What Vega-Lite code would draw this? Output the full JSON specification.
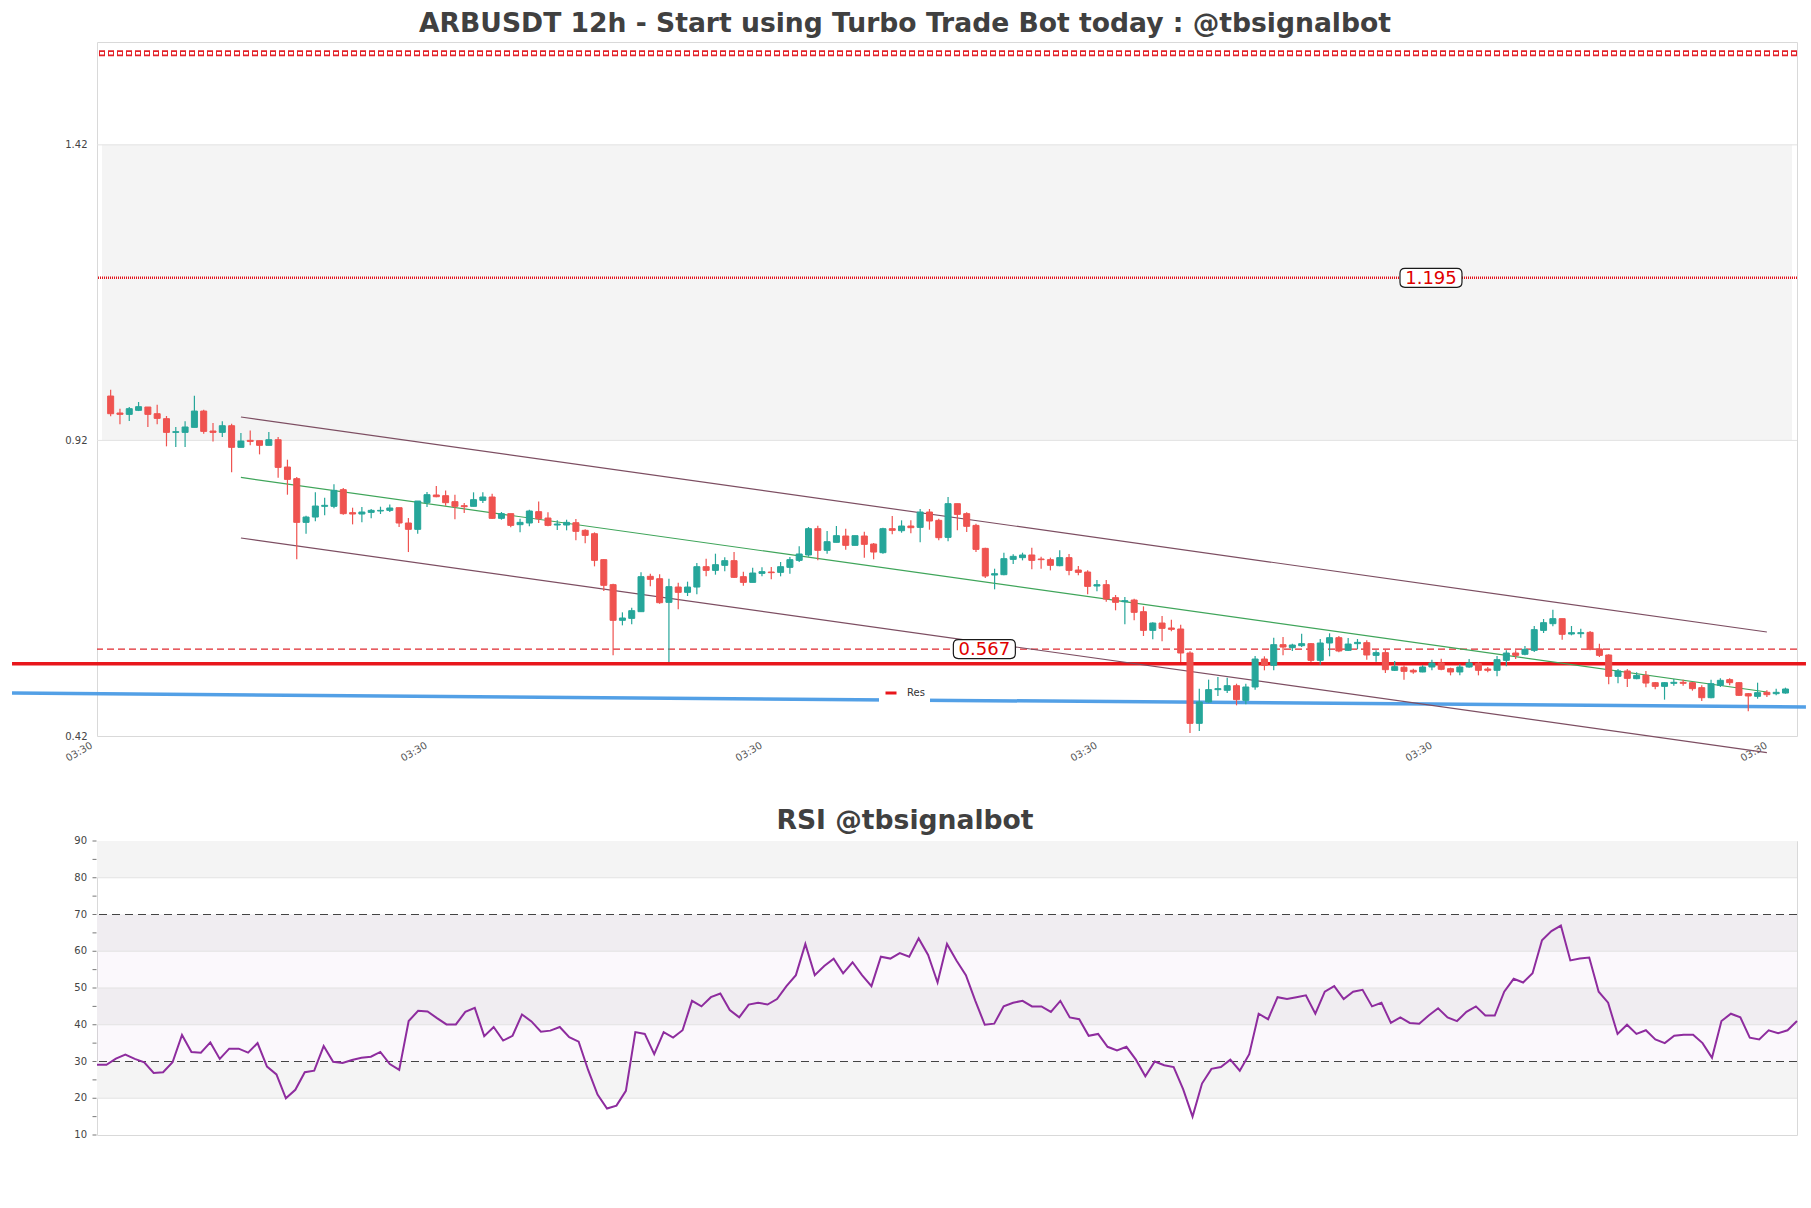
{
  "$schema": "https://vega.github.io/schema/vega-lite/v6.json",
  "background": "white",
  "padding": {"left": 4, "top": 10, "right": 0, "bottom": 0},
  "config": {
    "font": "DejaVu Sans",
    "view": {"stroke": "#d9d9d9", "strokeWidth": 1},
    "title": {"font": "DejaVu Sans", "fontSize": 26.6, "fontWeight": "bold", "color": "#404040", "anchor": "middle", "baseline": "alphabetic", "offset": 4, "dx": -42}
  },
  "resolve": {"scale": {"color": "independent"}, "legend": {"color": "independent"}},
  "spacing": 43,
  "datasets": {
    "candles": [
      {"i":0,"o":0.9951,"h":1.0058,"l":0.9607,"c":0.9652},{"i":1,"o":0.9664,"h":0.9737,"l":0.9472,"c":0.9641},{"i":2,"o":0.9641,"h":0.9765,"l":0.9528,"c":0.9737},{"i":3,"o":0.9709,"h":0.985,"l":0.9697,"c":0.9771},{"i":4,"o":0.9765,"h":0.9765,"l":0.9427,"c":0.9641},{"i":5,"o":0.9652,"h":0.9805,"l":0.9472,"c":0.9573},{"i":6,"o":0.9568,"h":0.9613,"l":0.91,"c":0.9336},{"i":7,"o":0.9336,"h":0.9427,"l":0.9088,"c":0.9348},{"i":8,"o":0.9336,"h":0.9523,"l":0.9088,"c":0.9427},{"i":9,"o":0.9421,"h":0.9957,"l":0.9421,"c":0.9697},
      {"i":10,"o":0.9697,"h":0.972,"l":0.9314,"c":0.9353},{"i":11,"o":0.9359,"h":0.9494,"l":0.9184,"c":0.9336},{"i":12,"o":0.9336,"h":0.9523,"l":0.9258,"c":0.9449},{"i":13,"o":0.9449,"h":0.9483,"l":0.866,"c":0.9083},{"i":14,"o":0.9083,"h":0.9325,"l":0.9083,"c":0.919},{"i":15,"o":0.9201,"h":0.937,"l":0.9117,"c":0.9184},{"i":16,"o":0.9196,"h":0.9196,"l":0.8964,"c":0.9117},{"i":17,"o":0.9117,"h":0.9342,"l":0.9117,"c":0.9212},{"i":18,"o":0.9212,"h":0.9257,"l":0.857,"c":0.8744},{"i":19,"o":0.875,"h":0.8874,"l":0.8282,"c":0.8541},
      {"i":20,"o":0.8553,"h":0.8581,"l":0.7188,"c":0.7814},{"i":21,"o":0.7814,"h":0.7927,"l":0.7622,"c":0.7904},{"i":22,"o":0.7904,"h":0.8322,"l":0.7831,"c":0.809},{"i":23,"o":0.8085,"h":0.8231,"l":0.7933,"c":0.8102},{"i":24,"o":0.8085,"h":0.8457,"l":0.8051,"c":0.8355},{"i":25,"o":0.8367,"h":0.8395,"l":0.7944,"c":0.7961},{"i":26,"o":0.7978,"h":0.8062,"l":0.778,"c":0.7955},{"i":27,"o":0.7955,"h":0.8074,"l":0.7814,"c":0.7989},{"i":28,"o":0.7983,"h":0.804,"l":0.7882,"c":0.8017},{"i":29,"o":0.8006,"h":0.8079,"l":0.7955,"c":0.8017},
      {"i":30,"o":0.8017,"h":0.8118,"l":0.7989,"c":0.8057},{"i":31,"o":0.8062,"h":0.8062,"l":0.7735,"c":0.7803},{"i":32,"o":0.7803,"h":0.7887,"l":0.7312,"c":0.7696},{"i":33,"o":0.7696,"h":0.8175,"l":0.7622,"c":0.8175},{"i":34,"o":0.8147,"h":0.8327,"l":0.8074,"c":0.8282},{"i":35,"o":0.8277,"h":0.8429,"l":0.8237,"c":0.8248},{"i":36,"o":0.8265,"h":0.8355,"l":0.8096,"c":0.8147},{"i":37,"o":0.8164,"h":0.8282,"l":0.7865,"c":0.8085},{"i":38,"o":0.8096,"h":0.8141,"l":0.7972,"c":0.8079},{"i":39,"o":0.8085,"h":0.8322,"l":0.8085,"c":0.8198},
      {"i":40,"o":0.8186,"h":0.8322,"l":0.8141,"c":0.8243},{"i":41,"o":0.8243,"h":0.8299,"l":0.787,"c":0.7882},{"i":42,"o":0.7882,"h":0.7989,"l":0.7859,"c":0.7961},{"i":43,"o":0.7961,"h":0.7961,"l":0.773,"c":0.7763},{"i":44,"o":0.7775,"h":0.7876,"l":0.7645,"c":0.7814},{"i":45,"o":0.7803,"h":0.8028,"l":0.7747,"c":0.8006},{"i":46,"o":0.7995,"h":0.8169,"l":0.7803,"c":0.7876},{"i":47,"o":0.7887,"h":0.7983,"l":0.7747,"c":0.7763},{"i":48,"o":0.7769,"h":0.7848,"l":0.7684,"c":0.7786},{"i":49,"o":0.7769,"h":0.7859,"l":0.7679,"c":0.7814},
      {"i":50,"o":0.7808,"h":0.787,"l":0.751,"c":0.7662},{"i":51,"o":0.7679,"h":0.7696,"l":0.7459,"c":0.7594},{"i":52,"o":0.7622,"h":0.7645,"l":0.707,"c":0.7171},{"i":53,"o":0.7183,"h":0.7188,"l":0.6653,"c":0.6749},{"i":54,"o":0.676,"h":0.6777,"l":0.5564,"c":0.6157},{"i":55,"o":0.6157,"h":0.6292,"l":0.6072,"c":0.6196},{"i":56,"o":0.619,"h":0.6371,"l":0.6089,"c":0.632},{"i":57,"o":0.6303,"h":0.6968,"l":0.6297,"c":0.6895},{"i":58,"o":0.6901,"h":0.6946,"l":0.6732,"c":0.685},{"i":59,"o":0.6861,"h":0.6935,"l":0.6438,"c":0.6455},
      {"i":60,"o":0.6461,"h":0.6861,"l":0.5452,"c":0.6726},{"i":61,"o":0.672,"h":0.6794,"l":0.6343,"c":0.663},{"i":62,"o":0.663,"h":0.6811,"l":0.6568,"c":0.672},{"i":63,"o":0.672,"h":0.7126,"l":0.6596,"c":0.7064},{"i":64,"o":0.7064,"h":0.72,"l":0.6901,"c":0.7002},{"i":65,"o":0.7002,"h":0.7284,"l":0.6929,"c":0.7098},{"i":66,"o":0.7087,"h":0.7222,"l":0.6985,"c":0.7166},{"i":67,"o":0.7166,"h":0.7312,"l":0.6873,"c":0.6884},{"i":68,"o":0.6895,"h":0.698,"l":0.6743,"c":0.6799},{"i":69,"o":0.6799,"h":0.7047,"l":0.6799,"c":0.6957},
      {"i":70,"o":0.6951,"h":0.7053,"l":0.6901,"c":0.698},{"i":71,"o":0.6974,"h":0.7059,"l":0.685,"c":0.6963},{"i":72,"o":0.6968,"h":0.7143,"l":0.6901,"c":0.7064},{"i":73,"o":0.7053,"h":0.7228,"l":0.6946,"c":0.7183},{"i":74,"o":0.7171,"h":0.7408,"l":0.7143,"c":0.7279},{"i":75,"o":0.7262,"h":0.7735,"l":0.7233,"c":0.7707},{"i":76,"o":0.7707,"h":0.7758,"l":0.7171,"c":0.7341},{"i":77,"o":0.7341,"h":0.7668,"l":0.7284,"c":0.7487},{"i":78,"o":0.7476,"h":0.7752,"l":0.7476,"c":0.7589},{"i":79,"o":0.7583,"h":0.7707,"l":0.7352,"c":0.7425},
      {"i":80,"o":0.7425,"h":0.7589,"l":0.7425,"c":0.7589},{"i":81,"o":0.7583,"h":0.7656,"l":0.7217,"c":0.7442},{"i":82,"o":0.7447,"h":0.7465,"l":0.7188,"c":0.7312},{"i":83,"o":0.7301,"h":0.7724,"l":0.7284,"c":0.7707},{"i":84,"o":0.7707,"h":0.7921,"l":0.7611,"c":0.7679},{"i":85,"o":0.7673,"h":0.7848,"l":0.7639,"c":0.7752},{"i":86,"o":0.7752,"h":0.7848,"l":0.7628,"c":0.7724},{"i":87,"o":0.7729,"h":0.804,"l":0.7476,"c":0.7989},{"i":88,"o":0.7989,"h":0.804,"l":0.769,"c":0.7837},{"i":89,"o":0.7848,"h":0.7876,"l":0.751,"c":0.7555},
      {"i":90,"o":0.756,"h":0.8243,"l":0.7493,"c":0.813},{"i":91,"o":0.813,"h":0.813,"l":0.7679,"c":0.7949},{"i":92,"o":0.7961,"h":0.7983,"l":0.7651,"c":0.7747},{"i":93,"o":0.7763,"h":0.7792,"l":0.7312,"c":0.7357},{"i":94,"o":0.7374,"h":0.7386,"l":0.6873,"c":0.6906},{"i":95,"o":0.6923,"h":0.703,"l":0.6681,"c":0.6946},{"i":96,"o":0.6929,"h":0.7301,"l":0.6918,"c":0.72},{"i":97,"o":0.7188,"h":0.7273,"l":0.7109,"c":0.7239},{"i":98,"o":0.7217,"h":0.7301,"l":0.7171,"c":0.7262},{"i":99,"o":0.7262,"h":0.7386,"l":0.7019,"c":0.7171},
      {"i":100,"o":0.7194,"h":0.7233,"l":0.703,"c":0.7183},{"i":101,"o":0.7183,"h":0.7217,"l":0.7002,"c":0.7087},{"i":102,"o":0.7081,"h":0.7341,"l":0.707,"c":0.7217},{"i":103,"o":0.7217,"h":0.7279,"l":0.6918,"c":0.7002},{"i":104,"o":0.7008,"h":0.7076,"l":0.6918,"c":0.6968},{"i":105,"o":0.6974,"h":0.7002,"l":0.6596,"c":0.6731},{"i":106,"o":0.6737,"h":0.6839,"l":0.6647,"c":0.676},{"i":107,"o":0.676,"h":0.6839,"l":0.6472,"c":0.6517},{"i":108,"o":0.654,"h":0.6585,"l":0.6326,"c":0.6461},{"i":109,"o":0.6472,"h":0.6551,"l":0.6089,"c":0.6489},
      {"i":110,"o":0.65,"h":0.6523,"l":0.6157,"c":0.6292},{"i":111,"o":0.6303,"h":0.6393,"l":0.5892,"c":0.5987},{"i":112,"o":0.5987,"h":0.6123,"l":0.5835,"c":0.6111},{"i":113,"o":0.6111,"h":0.623,"l":0.5801,"c":0.6021},{"i":114,"o":0.6027,"h":0.6168,"l":0.597,"c":0.6004},{"i":115,"o":0.601,"h":0.6083,"l":0.5452,"c":0.5604},{"i":116,"o":0.5604,"h":0.5632,"l":0.4251,"c":0.4414},{"i":117,"o":0.4414,"h":0.5001,"l":0.4285,"c":0.4775},{"i":118,"o":0.4775,"h":0.5153,"l":0.4764,"c":0.4984},{"i":119,"o":0.4984,"h":0.5198,"l":0.4877,"c":0.5001},
      {"i":120,"o":0.4973,"h":0.5187,"l":0.4927,"c":0.5051},{"i":121,"o":0.5051,"h":0.5085,"l":0.4719,"c":0.4815},{"i":122,"o":0.4803,"h":0.5085,"l":0.4736,"c":0.5029},{"i":123,"o":0.5029,"h":0.5553,"l":0.4984,"c":0.5502},{"i":124,"o":0.5502,"h":0.5548,"l":0.5311,"c":0.5395},{"i":125,"o":0.5395,"h":0.5863,"l":0.5311,"c":0.5745},{"i":126,"o":0.5745,"h":0.5875,"l":0.5564,"c":0.5705},{"i":127,"o":0.5694,"h":0.5762,"l":0.5638,"c":0.5739},{"i":128,"o":0.5728,"h":0.5931,"l":0.5705,"c":0.5762},{"i":129,"o":0.5762,"h":0.5773,"l":0.5452,"c":0.548},
      {"i":130,"o":0.548,"h":0.5841,"l":0.5407,"c":0.5773},{"i":131,"o":0.5773,"h":0.5937,"l":0.5548,"c":0.5863},{"i":132,"o":0.5863,"h":0.5891,"l":0.5615,"c":0.5638},{"i":133,"o":0.5649,"h":0.5858,"l":0.5638,"c":0.5756},{"i":134,"o":0.5762,"h":0.5841,"l":0.5666,"c":0.5784},{"i":135,"o":0.5779,"h":0.5818,"l":0.5491,"c":0.557},{"i":136,"o":0.5564,"h":0.5649,"l":0.5457,"c":0.561},{"i":137,"o":0.561,"h":0.566,"l":0.5266,"c":0.5322},{"i":138,"o":0.5311,"h":0.5469,"l":0.53,"c":0.5373},{"i":139,"o":0.5362,"h":0.5395,"l":0.5153,"c":0.5294},
      {"i":140,"o":0.5311,"h":0.5339,"l":0.5254,"c":0.5283},{"i":141,"o":0.5283,"h":0.5395,"l":0.5277,"c":0.5367},{"i":142,"o":0.5367,"h":0.5491,"l":0.5311,"c":0.5435},{"i":143,"o":0.5435,"h":0.5508,"l":0.5311,"c":0.5328},{"i":144,"o":0.5339,"h":0.5356,"l":0.5226,"c":0.5283},{"i":145,"o":0.5283,"h":0.5412,"l":0.5226,"c":0.5367},{"i":146,"o":0.5367,"h":0.5502,"l":0.5356,"c":0.5435},{"i":147,"o":0.5424,"h":0.5452,"l":0.5226,"c":0.5311},{"i":148,"o":0.5333,"h":0.5367,"l":0.5277,"c":0.5311},{"i":149,"o":0.5311,"h":0.5553,"l":0.5209,"c":0.5491},
      {"i":150,"o":0.548,"h":0.5649,"l":0.5378,"c":0.5604},{"i":151,"o":0.5604,"h":0.5649,"l":0.5502,"c":0.5564},{"i":152,"o":0.5582,"h":0.5722,"l":0.5564,"c":0.5666},{"i":153,"o":0.5649,"h":0.6061,"l":0.5621,"c":0.5999},{"i":154,"o":0.5987,"h":0.6179,"l":0.5942,"c":0.6117},{"i":155,"o":0.61,"h":0.6337,"l":0.6055,"c":0.6185},{"i":156,"o":0.6185,"h":0.6185,"l":0.5829,"c":0.592},{"i":157,"o":0.5925,"h":0.6061,"l":0.5903,"c":0.5948},{"i":158,"o":0.5931,"h":0.6016,"l":0.5863,"c":0.5948},{"i":159,"o":0.5953,"h":0.5976,"l":0.5649,"c":0.5666},
      {"i":160,"o":0.5672,"h":0.5762,"l":0.5536,"c":0.5564},{"i":161,"o":0.557,"h":0.5581,"l":0.5074,"c":0.5209},{"i":162,"o":0.5209,"h":0.5334,"l":0.5091,"c":0.53},{"i":163,"o":0.53,"h":0.5334,"l":0.5029,"c":0.5175},{"i":164,"o":0.517,"h":0.5277,"l":0.5158,"c":0.5226},{"i":165,"o":0.5226,"h":0.53,"l":0.5023,"c":0.5096},{"i":166,"o":0.5102,"h":0.5113,"l":0.4989,"c":0.504},{"i":167,"o":0.504,"h":0.5113,"l":0.4815,"c":0.5102},{"i":168,"o":0.5091,"h":0.5164,"l":0.5051,"c":0.5108},{"i":169,"o":0.5108,"h":0.5153,"l":0.5051,"c":0.5091},
      {"i":170,"o":0.5102,"h":0.5113,"l":0.4967,"c":0.5001},{"i":171,"o":0.5018,"h":0.5057,"l":0.4792,"c":0.4848},{"i":172,"o":0.4848,"h":0.5153,"l":0.4837,"c":0.5085},{"i":173,"o":0.5057,"h":0.5175,"l":0.5029,"c":0.5142},{"i":174,"o":0.5153,"h":0.5175,"l":0.5057,"c":0.5102},{"i":175,"o":0.5102,"h":0.5113,"l":0.4877,"c":0.4888},{"i":176,"o":0.4916,"h":0.4927,"l":0.4617,"c":0.4877},{"i":177,"o":0.4871,"h":0.5102,"l":0.4831,"c":0.4933},{"i":178,"o":0.4939,"h":0.4973,"l":0.486,"c":0.4899},{"i":179,"o":0.4916,"h":0.5001,"l":0.4888,"c":0.4939},
      {"i":180,"o":0.4927,"h":0.5018,"l":0.4916,"c":0.4995}
    ],
    "rsi": [
      {"k":0,"r":29.1},{"k":1,"r":29.1},{"k":2,"r":30.8},{"k":3,"r":31.9},{"k":4,"r":30.7},{"k":5,"r":29.8},{"k":6,"r":26.9},{"k":7,"r":27.1},{"k":8,"r":29.8},{"k":9,"r":37.2},
      {"k":10,"r":32.6},{"k":11,"r":32.4},{"k":12,"r":35.2},{"k":13,"r":30.7},{"k":14,"r":33.5},{"k":15,"r":33.5},{"k":16,"r":32.4},{"k":17,"r":35.0},{"k":18,"r":28.6},{"k":19,"r":26.5},
      {"k":20,"r":20.0},{"k":21,"r":22.3},{"k":22,"r":27.1},{"k":23,"r":27.5},{"k":24,"r":34.2},{"k":25,"r":29.9},{"k":26,"r":29.6},{"k":27,"r":30.4},{"k":28,"r":31.0},{"k":29,"r":31.3},
      {"k":30,"r":32.6},{"k":31,"r":29.3},{"k":32,"r":27.7},{"k":33,"r":41.0},{"k":34,"r":43.8},{"k":35,"r":43.6},{"k":36,"r":41.8},{"k":37,"r":40.1},{"k":38,"r":40.1},{"k":39,"r":43.5},
      {"k":40,"r":44.6},{"k":41,"r":36.9},{"k":42,"r":39.4},{"k":43,"r":35.7},{"k":44,"r":37.0},{"k":45,"r":42.8},{"k":46,"r":40.9},{"k":47,"r":38.1},{"k":48,"r":38.4},{"k":49,"r":39.4},
      {"k":50,"r":36.6},{"k":51,"r":35.4},{"k":52,"r":27.7},{"k":53,"r":21.0},{"k":54,"r":17.2},{"k":55,"r":18.0},{"k":56,"r":22.0},{"k":57,"r":38.0},{"k":58,"r":37.5},{"k":59,"r":32.0},
      {"k":60,"r":38.0},{"k":61,"r":36.5},{"k":62,"r":38.5},{"k":63,"r":46.5},{"k":64,"r":45.0},{"k":65,"r":47.5},{"k":66,"r":48.5},{"k":67,"r":44.0},{"k":68,"r":42.0},{"k":69,"r":45.5},
      {"k":70,"r":46.0},{"k":71,"r":45.5},{"k":72,"r":47.0},{"k":73,"r":50.5},{"k":74,"r":53.5},{"k":75,"r":62.0},{"k":76,"r":53.5},{"k":77,"r":56.0},{"k":78,"r":58.0},{"k":79,"r":54.0},
      {"k":80,"r":57.0},{"k":81,"r":53.5},{"k":82,"r":50.5},{"k":83,"r":58.5},{"k":84,"r":58.0},{"k":85,"r":59.5},{"k":86,"r":58.5},{"k":87,"r":63.5},{"k":88,"r":59.0},{"k":89,"r":51.5},
      {"k":90,"r":62.0},{"k":91,"r":57.5},{"k":92,"r":53.5},{"k":93,"r":46.5},{"k":94,"r":40.0},{"k":95,"r":40.3},{"k":96,"r":45.0},{"k":97,"r":46.0},{"k":98,"r":46.5},{"k":99,"r":45.0},
      {"k":100,"r":45.0},{"k":101,"r":43.5},{"k":102,"r":46.5},{"k":103,"r":42.0},{"k":104,"r":41.5},{"k":105,"r":37.0},{"k":106,"r":37.5},{"k":107,"r":34.0},{"k":108,"r":33.0},{"k":109,"r":34.0},
      {"k":110,"r":30.5},{"k":111,"r":26.0},{"k":112,"r":30.0},{"k":113,"r":29.0},{"k":114,"r":28.5},{"k":115,"r":22.5},{"k":116,"r":15.0},{"k":117,"r":24.0},{"k":118,"r":28.0},{"k":119,"r":28.5},
      {"k":120,"r":30.5},{"k":121,"r":27.5},{"k":122,"r":32.0},{"k":123,"r":43.0},{"k":124,"r":41.5},{"k":125,"r":47.5},{"k":126,"r":47.0},{"k":127,"r":47.5},{"k":128,"r":48.0},{"k":129,"r":43.0},
      {"k":130,"r":49.0},{"k":131,"r":50.5},{"k":132,"r":47.0},{"k":133,"r":49.0},{"k":134,"r":49.5},{"k":135,"r":45.0},{"k":136,"r":46.0},{"k":137,"r":40.5},{"k":138,"r":42.0},{"k":139,"r":40.5},
      {"k":140,"r":40.3},{"k":141,"r":42.5},{"k":142,"r":44.5},{"k":143,"r":42.0},{"k":144,"r":41.0},{"k":145,"r":43.5},{"k":146,"r":45.0},{"k":147,"r":42.5},{"k":148,"r":42.5},{"k":149,"r":49.0},
      {"k":150,"r":52.5},{"k":151,"r":51.5},{"k":152,"r":54.0},{"k":153,"r":63.0},{"k":154,"r":65.5},{"k":155,"r":67.0},{"k":156,"r":57.5},{"k":157,"r":58.0},{"k":158,"r":58.3},{"k":159,"r":49.0},
      {"k":160,"r":46.0},{"k":161,"r":37.5},{"k":162,"r":40.0},{"k":163,"r":37.5},{"k":164,"r":38.5},{"k":165,"r":36.0},{"k":166,"r":35.0},{"k":167,"r":37.0},{"k":168,"r":37.3},{"k":169,"r":37.3},
      {"k":170,"r":35.0},{"k":171,"r":31.0},{"k":172,"r":41.0},{"k":173,"r":43.0},{"k":174,"r":42.0},{"k":175,"r":36.5},{"k":176,"r":36.0},{"k":177,"r":38.5},{"k":178,"r":37.7},{"k":179,"r":38.5},
      {"k":180,"r":41.0}
    ],
    "res": [{"x":-10.6,"y":0.5423,"n":"Res"},{"x":182.2,"y":0.5423,"n":"Res"}],
    "sup": [{"x":-10.6,"y":0.4927},{"x":182.2,"y":0.469}],
    "chan": [
      {"g":"upper","x":14,"y":0.9596},{"g":"upper","x":178,"y":0.5959},
      {"g":"mid","x":14,"y":0.8574},{"g":"mid","x":178,"y":0.4944},
      {"g":"lower","x":14,"y":0.7549},{"g":"lower","x":178,"y":0.392}
    ],
    "labels": [{"t":"1.195","x":141.9,"y":1.195},{"t":"0.567","x":93.9,"y":0.567}]
  },
  "vconcat": [
    {
      "title": {"text": "ARBUSDT 12h - Start using Turbo Trade Bot today : @tbsignalbot"},
      "width": 1700,
      "height": 694,
      "layer": [
        {
          "data": {"name": "candles"},
          "mark": {"type": "rule", "opacity": 0},
          "encoding": {
            "x": {
              "field": "i", "type": "quantitative",
              "scale": {"domain": [-0.93, 180.7], "nice": false, "zero": false},
              "axis": {"values": [0, 36, 72, 108, 144, 180], "labelExpr": "'03:30'", "title": null, "ticks": false, "domain": false, "grid": false, "labelAngle": -30, "labelAlign": "right", "labelBaseline": "top", "labelFontSize": 10, "labelColor": "#555555", "labelOffset": -22, "labelPadding": 4, "labelFlush": false, "labelOverlap": false, "labelBound": false, "labelFont": "DejaVu Sans"}
            },
            "y": {
              "field": "l", "type": "quantitative",
              "scale": {"domain": [0.42, 1.594], "nice": false, "zero": false},
              "axis": {"values": [0.42, 0.92, 1.42], "title": null, "ticks": false, "domain": false, "grid": false, "labelFontSize": 10, "labelColor": "#444444", "labelPadding": 10, "labelOverlap": false, "labelFlush": false, "format": ".2f", "labelFont": "DejaVu Sans"}
            }
          }
        },
        {
          "data": {"values": [{"a": 0.92, "b": 1.42}]},
          "mark": {"type": "rect", "color": "#f4f4f4"},
          "encoding": {
            "x": {"datum": -0.93, "type": "quantitative"},
            "x2": {"datum": 180.7},
            "y": {"field": "a", "type": "quantitative"},
            "y2": {"field": "b"}
          }
        },
        {
          "data": {"values": [{"v": 0.92}, {"v": 1.42}]},
          "mark": {"type": "rule", "color": "#e3e3e3", "strokeWidth": 1},
          "encoding": {"y": {"field": "v", "type": "quantitative"}}
        },
        {
          "data": {"values": [{"v": 1.575}]},
          "mark": {"type": "rule", "color": "#e3232a", "strokeWidth": 6, "strokeDash": [6, 3]},
          "encoding": {"y": {"field": "v", "type": "quantitative"}}
        },
        {
          "data": {"values": [{"v": 1.575}]},
          "mark": {"type": "rule", "color": "white", "strokeWidth": 2.5, "strokeDash": [4, 5], "strokeDashOffset": -1},
          "encoding": {"y": {"field": "v", "type": "quantitative"}}
        },
        {
          "data": {"values": [{"v": 1.195}]},
          "mark": {"type": "rule", "color": "#e3151c", "strokeWidth": 2.5, "strokeDash": [1, 1]},
          "encoding": {"y": {"field": "v", "type": "quantitative"}}
        },
        {
          "data": {"values": [{"v": 0.567}]},
          "mark": {"type": "rule", "color": "#e0282e", "strokeWidth": 1.2, "strokeDash": [7, 4]},
          "encoding": {"y": {"field": "v", "type": "quantitative"}}
        },
        {
          "data": {"name": "sup"},
          "mark": {"type": "line", "color": "#4a9be5", "strokeWidth": 3.5, "opacity": 0.95},
          "encoding": {
            "x": {"field": "x", "type": "quantitative"},
            "y": {"field": "y", "type": "quantitative"}
          }
        },
        {
          "data": {"name": "res"},
          "mark": {"type": "line", "strokeWidth": 3.5},
          "encoding": {
            "x": {"field": "x", "type": "quantitative"},
            "y": {"field": "y", "type": "quantitative"},
            "color": {
              "field": "n", "type": "nominal",
              "scale": {"domain": ["Res"], "range": ["#e8161b"]},
              "legend": {"orient": "none", "legendX": 782, "legendY": 639, "title": null, "fillColor": "white", "padding": 5, "symbolType": "stroke", "symbolStrokeWidth": 3, "symbolSize": 121, "labelFontSize": 10, "labelOffset": 9, "labelColor": "#333333", "labelFont": "DejaVu Sans"}
            }
          }
        },
        {
          "data": {"name": "chan"},
          "mark": {"type": "line", "strokeWidth": 1.2},
          "encoding": {
            "x": {"field": "x", "type": "quantitative"},
            "y": {"field": "y", "type": "quantitative"},
            "detail": {"field": "g"},
            "stroke": {"condition": {"test": "datum.g === 'mid'", "value": "#3fa55a"}, "value": "#7d4e62"}
          }
        },
        {
          "data": {"name": "candles"},
          "mark": {"type": "rule", "strokeWidth": 1.2},
          "encoding": {
            "x": {"field": "i", "type": "quantitative"},
            "y": {"field": "l", "type": "quantitative"},
            "y2": {"field": "h"},
            "color": {"condition": {"test": "datum.c >= datum.o", "value": "#26a69a"}, "value": "#ef5350"}
          }
        },
        {
          "data": {"name": "candles"},
          "mark": {"type": "bar", "size": 6, "strokeWidth": 1},
          "encoding": {
            "x": {"field": "i", "type": "quantitative"},
            "y": {"field": "o", "type": "quantitative"},
            "y2": {"field": "c"},
            "fill": {"condition": {"test": "datum.c >= datum.o", "value": "#26a69a"}, "value": "#ef5350"},
            "stroke": {"condition": {"test": "datum.c >= datum.o", "value": "#26a69a"}, "value": "#ef5350"}
          }
        },
        {
          "data": {"name": "labels"},
          "mark": {"type": "point", "shape": "M-0.839,-0.306 L0.839,-0.306 Q1,-0.306 1,-0.145 L1,0.145 Q1,0.306 0.839,0.306 L-0.839,0.306 Q-1,0.306 -1,0.145 L-1,-0.145 Q-1,-0.306 -0.839,-0.306 Z", "size": 3844, "filled": true, "fill": "white", "stroke": "#1a1a1a", "strokeWidth": 1.2, "opacity": 1},
          "encoding": {
            "x": {"field": "x", "type": "quantitative"},
            "y": {"field": "y", "type": "quantitative"}
          }
        },
        {
          "data": {"name": "labels"},
          "mark": {"type": "text", "fontSize": 18, "color": "#e00000", "align": "center", "baseline": "middle", "dy": 1, "font": "DejaVu Sans"},
          "encoding": {
            "x": {"field": "x", "type": "quantitative"},
            "y": {"field": "y", "type": "quantitative"},
            "text": {"field": "t"}
          }
        }
      ]
    },
    {
      "title": {"text": "RSI @tbsignalbot", "offset": 1},
      "width": 1700,
      "height": 294,
      "layer": [
        {
          "data": {"name": "rsi"},
          "mark": {"type": "line", "opacity": 0},
          "encoding": {
            "x": {"field": "k", "type": "quantitative", "scale": {"domain": [0, 180], "nice": false, "zero": false}, "axis": null},
            "y": {
              "field": "r", "type": "quantitative",
              "scale": {"domain": [10, 90], "nice": false, "zero": false},
              "axis": {"values": [10, 20, 30, 40, 50, 60, 70, 80, 90], "title": null, "labels": false, "ticks": false, "domain": false, "grid": false}
            }
          }
        },
        {
          "data": {"values": [{"a": 80, "b": 90}, {"a": 60, "b": 70}, {"a": 40, "b": 50}, {"a": 20, "b": 30}]},
          "mark": {"type": "rect", "color": "#f4f4f4"},
          "encoding": {
            "x": {"datum": 0, "type": "quantitative"},
            "x2": {"datum": 180},
            "y": {"field": "a", "type": "quantitative"},
            "y2": {"field": "b"}
          }
        },
        {
          "data": {"values": [{"a": 30, "b": 70}]},
          "mark": {"type": "rect", "color": "#9b59b6", "opacity": 0.045},
          "encoding": {
            "x": {"datum": 0, "type": "quantitative"},
            "x2": {"datum": 180},
            "y": {"field": "a", "type": "quantitative"},
            "y2": {"field": "b"}
          }
        },
        {
          "data": {"values": [{"v": 10}, {"v": 15}, {"v": 20}, {"v": 25}, {"v": 30}, {"v": 35}, {"v": 40}, {"v": 45}, {"v": 50}, {"v": 55}, {"v": 60}, {"v": 65}, {"v": 70}, {"v": 75}, {"v": 80}, {"v": 85}, {"v": 90}]},
          "mark": {"type": "tick", "orient": "horizontal", "size": 4, "thickness": 1, "xOffset": -2.5, "color": "#777777", "opacity": 1},
          "encoding": {
            "x": {"datum": 0, "type": "quantitative"},
            "y": {"field": "v", "type": "quantitative"}
          }
        },
        {
          "data": {"values": [{"v": 10}, {"v": 20}, {"v": 30}, {"v": 40}, {"v": 50}, {"v": 60}, {"v": 70}, {"v": 80}, {"v": 90}]},
          "mark": {"type": "text", "align": "right", "baseline": "middle", "xOffset": -10, "fontSize": 10, "color": "#444444", "font": "DejaVu Sans"},
          "encoding": {
            "x": {"datum": 0, "type": "quantitative"},
            "y": {"field": "v", "type": "quantitative"},
            "text": {"field": "v", "type": "nominal"}
          }
        },
        {
          "data": {"values": [{"v": 20}, {"v": 40}, {"v": 50}, {"v": 60}, {"v": 80}]},
          "mark": {"type": "rule", "color": "#e3e3e3", "strokeWidth": 1},
          "encoding": {"y": {"field": "v", "type": "quantitative"}}
        },
        {
          "data": {"values": [{"v": 30}, {"v": 70}]},
          "mark": {"type": "rule", "color": "#444444", "strokeWidth": 1.2, "strokeDash": [8, 5]},
          "encoding": {"y": {"field": "v", "type": "quantitative"}}
        },
        {
          "data": {"name": "rsi"},
          "mark": {"type": "line", "color": "#8e2c9e", "strokeWidth": 2},
          "encoding": {
            "x": {"field": "k", "type": "quantitative"},
            "y": {"field": "r", "type": "quantitative"}
          }
        }
      ]
    }
  ]
}
